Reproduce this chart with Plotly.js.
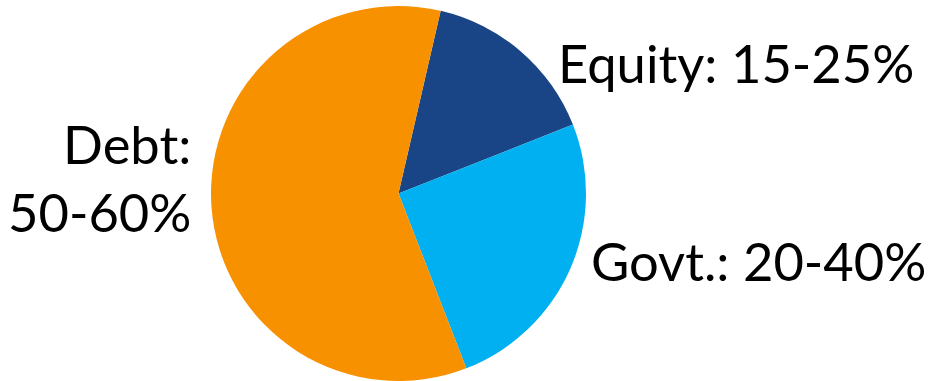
<!DOCTYPE html>
<html>
<head>
<meta charset="utf-8">
<script src="https://cdn.plot.ly/plotly-3.0.1.min.js"></script>
<style>html,body{margin:0;padding:0;background:#fff;}#chart{width:930px;height:381px;}</style>
</head>
<body>
<div id="chart"></div>
<script>
const categories = ['Equity', 'Govt.', 'Debt'];
const shares = [15.4, 25.1, 59.5];
const rangeLabels = ['Equity: 15-25%', 'Govt.: 20-40%', 'Debt:<br>50-60%'];
const colors = ['#194486', '#00B0F0', '#F79100'];

const trace = {
  type: 'pie',
  labels: categories,
  values: shares,
  sort: false,
  direction: 'clockwise',
  rotation: 13,
  textinfo: 'none',
  hoverinfo: 'label+percent',
  marker: {colors: colors, line: {width: 0}},
  domain: {x: [(398.5 - 200) / 930, (398.5 + 200) / 930], y: [0, 1]},
  showlegend: false
};

const font = {family: 'Lato, "Open Sans", sans-serif', size: 52.5, color: '#000'};
const annotations = [
  {text: rangeLabels[0], x: 556 / 930, y: 1 - 57 / 381, xanchor: 'left', yanchor: 'middle', align: 'left'},
  {text: rangeLabels[1], x: 589 / 930, y: 1 - 259 / 381, xanchor: 'left', yanchor: 'middle', align: 'left'},
  {text: rangeLabels[2], x: 193 / 930, y: 1 - 174 / 381, xanchor: 'right', yanchor: 'middle', align: 'right'}
].map(a => Object.assign(a, {xref: 'paper', yref: 'paper', showarrow: false, font: font}));

const layout = {
  width: 930, height: 381,
  margin: {l: 0, r: 0, t: 6, b: 0},
  paper_bgcolor: '#fff',
  annotations: annotations
};

Plotly.newPlot('chart', [trace], layout, {displayModeBar: false, staticPlot: true});
</script>
</body>
</html>
